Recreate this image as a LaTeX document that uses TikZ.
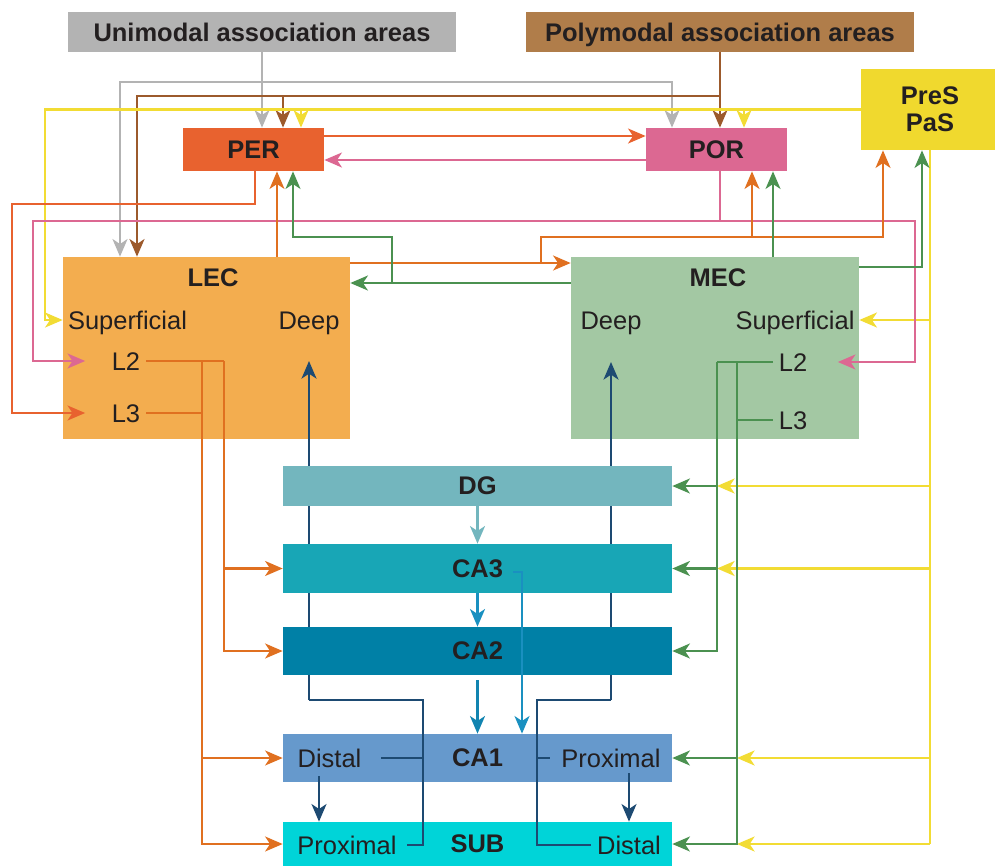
\documentclass[tikz,border=0pt]{standalone}
\usepackage{fontspec}
\setmainfont{Liberation Sans}
\usetikzlibrary{arrows.meta}

\definecolor{uniGray}{HTML}{B3B3B3}
\definecolor{polyBrown}{HTML}{B07D4A}
\definecolor{polyLine}{HTML}{9C5A2C}
\definecolor{perRed}{HTML}{E8622F}
\definecolor{porPink}{HTML}{DC6892}
\definecolor{presYel}{HTML}{F0D92E}
\definecolor{presLine}{HTML}{F2DC34}
\definecolor{lecFill}{HTML}{F3AD4F}
\definecolor{lecLine}{HTML}{E07020}
\definecolor{mecFill}{HTML}{A3C8A3}
\definecolor{mecLine}{HTML}{4B9150}
\definecolor{dgFill}{HTML}{73B6BE}
\definecolor{caThreeFill}{HTML}{18A6B6}
\definecolor{caTwoFill}{HTML}{0080A6}
\definecolor{caOneFill}{HTML}{6699CC}
\definecolor{subFill}{HTML}{00D4D8}
\definecolor{deepLine}{HTML}{1D4A72}
\definecolor{caArrow}{HTML}{1A90C0}
\definecolor{caTwoArrow}{HTML}{1184B0}
\definecolor{txt}{HTML}{231F20}

\begin{document}
\begin{tikzpicture}[x=0.02cm, y=-0.02cm,
    every node/.style={font=\fontsize{14.5}{15.5}\selectfont, text=txt},
    area/.style={inner sep=0pt, font=\fontsize{14.5}{15.5}\selectfont\bfseries},
    lbl/.style={text height=10.4pt, text depth=0pt},
    wire/.style={line width=1.3pt},
    link/.style={wire, -{Stealth[length=10pt, width=8.5pt, inset=2.8pt]}},
    twoway/.style={wire, {Stealth[length=10pt, width=8.5pt, inset=2.8pt]}-{Stealth[length=10pt, width=8.5pt, inset=2.8pt]}}]
    \useasboundingbox (0,0) rectangle (995,866);

    % bends and junctions
    \coordinate (gU) at (120,82);  \coordinate (gV) at (672,82);
    \coordinate (bL) at (137,96);  \coordinate (bM) at (283,96);
    \coordinate (yL) at (45,109.5); \coordinate (yA) at (301,109.5); \coordinate (yB) at (744,109.5);
    \coordinate (rB) at (255,204); \coordinate (rC) at (12,204);
    \coordinate (pB) at (720,221); \coordinate (pC) at (33,221); \coordinate (pD) at (915,221);
    \coordinate (oA) at (277,257); \coordinate (oB) at (541,263);
    \coordinate (oC) at (883,237); \coordinate (oD) at (752,237);
    \coordinate (oE) at (224,361); \coordinate (oF) at (202,361);
    \coordinate (gM) at (773,257); \coordinate (gJ) at (392,283);
    \coordinate (gK) at (293,237); \coordinate (gP) at (922,267);
    \coordinate (gb1) at (717,362); \coordinate (gb2) at (737,362);
    \coordinate (dA) at (309,700); \coordinate (dB) at (423,700);
    \coordinate (dC) at (611,700); \coordinate (dD) at (537,700);
    \coordinate (cA) at (513,572); \coordinate (cB) at (522,572);
    \coordinate (cD) at (319,776);

    % cortical areas
    \node[area, fill=uniGray, minimum width=7.76cm, minimum height=0.8cm] (uni) at (262,32) {Unimodal association areas};
    \node[area, fill=polyBrown, minimum width=7.76cm, minimum height=0.8cm, text depth=0pt] (poly) at (720,32) {Polymodal association areas};
    \node[area, fill=perRed, minimum width=2.82cm, minimum height=0.86cm] (per) at (253.5,149.5) {PER};
    \node[area, fill=porPink, minimum width=2.82cm, minimum height=0.86cm] (por) at (716.5,149.5) {POR};
    \node[area, fill=presYel, minimum width=2.76cm, minimum height=1.62cm, align=center] (pres) at (930,109.5) {PreS\\PaS};

    % entorhinal cortex
    \node[area, fill=lecFill, minimum width=5.74cm, minimum height=3.64cm] (lec) at (206.5,348) {};
    \node[area] (lecT) at (213,278) {LEC};
    \node[lbl] (lecSup) at (127.5,320) {Superficial};
    \node[lbl] (lecDeep) at (309,320) {Deep};
    \node[lbl] (lecL2) at (126,361) {L2};
    \node[lbl] (lecL3) at (126,413) {L3};
    \node[area, fill=mecFill, minimum width=5.76cm, minimum height=3.64cm] (mec) at (715,348) {};
    \node[area] (mecT) at (718,278) {MEC};
    \node[lbl] (mecDeep) at (611,320) {Deep};
    \node[lbl] (mecSup) at (795,320) {Superficial};
    \node[lbl] (mecL2) at (793,362) {L2};
    \node[lbl] (mecL3) at (793,420) {L3};

    % CA1 and subiculum
    \node[area, fill=caOneFill, minimum width=7.78cm, minimum height=0.96cm] (ca1) at (477.5,758) {CA1};
    \node[lbl] (ca1D) at (329.5,758) {Distal};
    \node[lbl] (ca1P) at (611,758) {Proximal};
    \node[area, fill=subFill, minimum width=7.78cm, minimum height=0.88cm] (sub) at (477.5,844) {SUB};
    \node[lbl] (subP) at (347,845) {Proximal};
    \node[lbl] (subD) at (629,845) {Distal};

    % return to deep layers (runs behind DG, CA3, CA2)
    \draw[link, deepLine] (dA) -- (lecDeep |- lecL2);
    \draw[link, deepLine] (dC) -- (mecDeep |- mecL2);

    \node[area, fill=dgFill, minimum width=7.78cm, minimum height=0.8cm] (dg) at (477.5,486) {DG};
    \node[area, fill=caThreeFill, minimum width=7.78cm, minimum height=0.98cm] (ca3) at (477.5,568.5) {CA3};
    \node[area, fill=caTwoFill, minimum width=7.78cm, minimum height=0.96cm] (ca2) at (477.5,651) {CA2};

    % unimodal
    \draw[link, uniGray] (uni.south) -- (uni.south |- per.north);
    \draw[twoway, uniGray] (gU |- lec.north) -- (gU) -- (gV) -- (gV |- por.north);

    % polymodal
    \draw[link, polyLine] (poly.south) -- (poly.south |- por.north);
    \draw[link, polyLine] (poly.south |- bL) -- (bL) -- (bL |- lec.north);
    \draw[link, polyLine] (bM) -- (bM |- per.north);

    % PreS / PaS
    \draw[link, presLine] (pres.west) -- (yL) |- (lec.west |- lecSup);
    \draw[link, presLine] (yA) -- (yA |- per.north);
    \draw[link, presLine] (yB) -- (yB |- por.north);
    \draw[wire, presLine] (pres.south) -- (pres.south |- sub);
    \draw[link, presLine] (pres.south |- mecSup) -- (mec.east |- mecSup);
    \foreach \n in {dg, ca3}
        \draw[link, presLine] (pres.south |- \n) -- (gb1 |- \n);
    \foreach \n in {ca1, sub}
        \draw[link, presLine] (pres.south |- \n) -- (gb2 |- \n);

    % PER and POR
    \draw[link, perRed] ([yshift=0.27cm]per.east) -- ([yshift=0.27cm]por.west);
    \draw[link, porPink] ([yshift=-0.21cm]por.west) -- ([yshift=-0.21cm]per.east);
    \draw[link, perRed] (rB |- per.south) -- (rB) -- (rC) |- ([xshift=-0.41cm]lecL3.west);
    \draw[wire, porPink] (pB |- por.south) -- (pB);
    \draw[link, porPink] (pB) -- (pC) |- ([xshift=-0.41cm]lecL2.west);
    \draw[link, porPink] (pB) -- (pD) |- ([xshift=0.49cm]mecL2.east);

    % LEC outputs
    \draw[link, lecLine] (oA) -- (oA |- per.south);
    \draw[link, lecLine] (lec.east |- oB) -- (mec.west |- oB);
    \draw[link, lecLine] (oB) |- (oC) -- (oC |- pres.south);
    \draw[link, lecLine] (oD) -- (oD |- por.south);
    \draw[wire, lecLine] (lecL2.east) -- (oE);
    \draw[wire, lecLine] (lecL3.east) -- (oF |- lecL3);
    \draw[link, lecLine] (oE) |- (ca2.west);
    \draw[link, lecLine] (oE |- ca3) -- (ca3.west);
    \draw[link, lecLine] (oF) |- (sub.west);
    \draw[link, lecLine] (oF |- ca1) -- (ca1.west);

    % MEC outputs
    \draw[link, mecLine] (gM) -- (gM |- por.south);
    \draw[link, mecLine] (mec.west |- gJ) -- (lec.east |- gJ);
    \draw[link, mecLine] (gJ) |- (gK) -- (gK |- per.south);
    \draw[link, mecLine] (mec.east |- gP) -- (gP) -- (gP |- pres.south);
    \draw[wire, mecLine] (mecL2.west) -- (gb1);
    \draw[wire, mecLine] (mecL3.west) -- (gb2 |- mecL3);
    \draw[link, mecLine] (gb1) |- (ca2.east);
    \foreach \n in {dg, ca3}
        \draw[link, mecLine] (gb1 |- \n) -- (\n.east);
    \draw[link, mecLine] (gb2) |- (sub.east);
    \draw[link, mecLine] (gb2 |- ca1) -- (ca1.east);

    % hippocampal loop
    \draw[link, dgFill] (dg.south) -- (ca3.north);
    \draw[link, caArrow] (ca3.south) -- (ca2.north);
    \draw[link, caTwoArrow] ([yshift=-0.1cm]ca2.south) -- (ca1.north);
    \draw[link, caArrow] (cA) -- (cB) -- (cB |- ca1.north);
    \draw[wire, deepLine] (dA) -- (dB) -- (dB |- subP) -- ([xshift=0.09cm]subP.east);
    \draw[wire, deepLine] ([xshift=0.27cm]ca1D.east) -- (dB |- ca1D);
    \draw[wire, deepLine] (dC) -- (dD) -- (dD |- subD) -- (subD.west);
    \draw[wire, deepLine] (dD |- ca1P) -- ([xshift=-0.11cm]ca1P.west);
    \draw[link, deepLine] (cD) -- (cD |- sub.north);
    \draw[link, deepLine] (subD |- ca1P.south) -- (subD |- sub.north);
\end{tikzpicture}
\end{document}
